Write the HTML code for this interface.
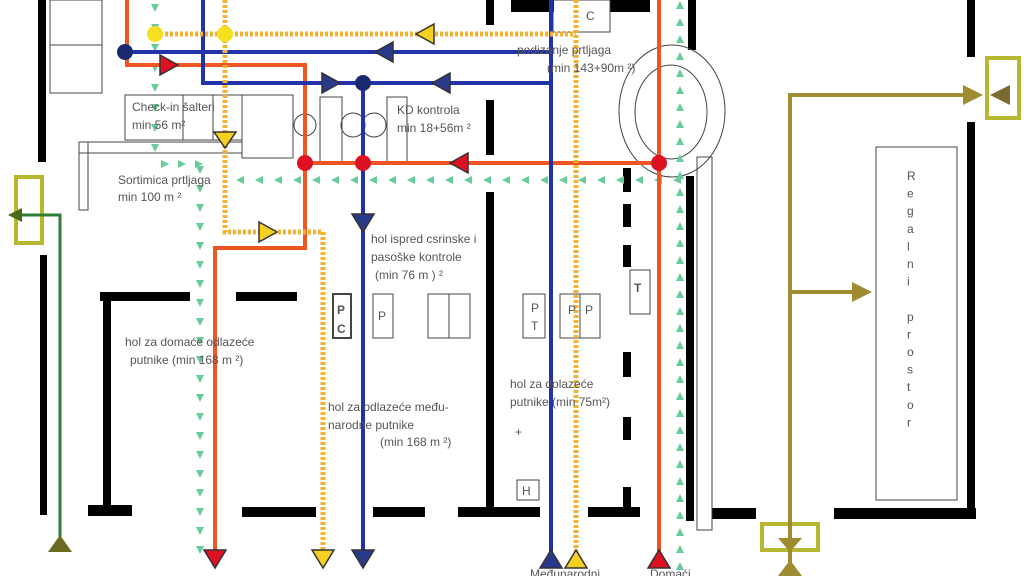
<!DOCTYPE html>
<html><head><meta charset="utf-8"><style>
html,body{margin:0;padding:0;background:#fff;}
svg{display:block;}
text{font-family:"Liberation Sans",sans-serif;fill:#555;font-size:12px;}
</style></head><body>
<svg id="s" width="1024" height="576" viewBox="0 0 1024 576" xmlns="http://www.w3.org/2000/svg">
<rect width="1024" height="576" fill="#fff"/>
<g fill="#000">
<rect x="38" y="0" width="8" height="162"/>
<rect x="40" y="255" width="7" height="260"/>
<rect x="103" y="293" width="8" height="217"/>
<rect x="100" y="292" width="90" height="9"/>
<rect x="236" y="292" width="61" height="9"/>
<rect x="88" y="505" width="44" height="11"/>
<rect x="242" y="507" width="74" height="10"/>
<rect x="373" y="507" width="52" height="10"/>
<rect x="458" y="507" width="82" height="10"/>
<rect x="486" y="0" width="8" height="25"/>
<rect x="486" y="100" width="8" height="55"/>
<rect x="486" y="192" width="8" height="320"/>
<rect x="511" y="0" width="43" height="12"/>
<rect x="610" y="0" width="40" height="12"/>
<rect x="623" y="168" width="8" height="24"/>
<rect x="623" y="204" width="8" height="23"/>
<rect x="623" y="245" width="8" height="22"/>
<rect x="623" y="352" width="8" height="25"/>
<rect x="623" y="417" width="8" height="23"/>
<rect x="623" y="487" width="8" height="25"/>
<rect x="588" y="507" width="52" height="10"/>
<rect x="688" y="0" width="8" height="50"/>
<rect x="686" y="176" width="8" height="345"/>
<rect x="712" y="508" width="44" height="11"/>
<rect x="834" y="508" width="142" height="11"/>
<rect x="967" y="0" width="8" height="57"/>
<rect x="967" y="122" width="8" height="396"/>
</g>
<g fill="none" stroke="#444" stroke-width="1">
<rect x="50" y="0" width="52" height="93"/><line x1="50" y1="45" x2="102" y2="45"/>
<rect x="125" y="95" width="58" height="45"/><rect x="183" y="95" width="30" height="45"/><rect x="213" y="95" width="29" height="45"/>
<rect x="242" y="95" width="51" height="63"/>
<rect x="79" y="142" width="9" height="68"/><rect x="79" y="142" width="163" height="11"/>
<circle cx="305" cy="125" r="11"/>
<rect x="320" y="97" width="22" height="66"/><circle cx="353" cy="125" r="12"/><circle cx="374" cy="125" r="12"/>
<rect x="387" y="97" width="20" height="66"/>
<rect x="553" y="0" width="57" height="32"/>
<ellipse cx="672" cy="111" rx="53" ry="66"/><ellipse cx="671" cy="112" rx="36" ry="47"/>
<rect x="697" y="157" width="15" height="373"/>
<rect x="876" y="147" width="81" height="353"/>
<rect x="333" y="294" width="18" height="44" stroke-width="2"/><rect x="373" y="294" width="20" height="44"/>
<rect x="428" y="294" width="42" height="44"/><line x1="449" y1="294" x2="449" y2="338"/>
<rect x="523" y="294" width="22" height="44"/><rect x="560" y="294" width="40" height="44"/><line x1="580" y1="294" x2="580" y2="338"/>
<rect x="630" y="270" width="20" height="44"/>
<rect x="517" y="480" width="22" height="20"/>
</g>
<g fill="none" stroke="#b8b830" stroke-width="4">
<rect x="16" y="177" width="26" height="66"/>
<rect x="987" y="58" width="32" height="60"/>
<rect x="762" y="524" width="56" height="26"/>
</g>
<g id="grn"></g>
<polyline points="12,215 60,215 60,540" fill="none" stroke="#2e7d32" stroke-width="3"/>
<polygon points="8,215 22,208 22,222" fill="#4a6a1a"/>
<polygon points="60,535 48,552 72,552" fill="#6b6b1f"/>
<g stroke="#a08c30" stroke-width="4" fill="none">
<polyline points="790,565 790,95 970,95"/><line x1="790" y1="292" x2="860" y2="292"/>
</g>
<polygon points="983,95 963,85 963,105" fill="#a08c30"/>
<polygon points="990,95 1010,85 1010,105" fill="#7a6a30"/>
<polygon points="872,292 852,282 852,302" fill="#a08c30"/>
<polygon points="790,552 778,538 802,538" fill="#a08c30"/>
<polygon points="790,560 778,576 802,576" fill="#a08c30"/>
<g stroke="#ee5522" stroke-width="4" fill="none">
<polyline points="127,0 127,65 305,65 305,248 215,248 215,552"/>
<line x1="305" y1="163" x2="659" y2="163"/><line x1="659" y1="0" x2="659" y2="555"/>
</g>
<g stroke="#2233aa" stroke-width="4" fill="none">
<line x1="125" y1="52" x2="551" y2="52"/><polyline points="203,0 203,83 551,83"/>
<line x1="363" y1="83" x2="363" y2="552"/><line x1="551" y1="0" x2="551" y2="560"/>
</g>
<g stroke="#f5b230" stroke-width="5" fill="none" stroke-dasharray="3,2">
<line x1="155" y1="34" x2="576" y2="34"/><polyline points="225,0 225,232 323,232 323,552"/>
<line x1="576" y1="0" x2="576" y2="560"/>
</g>
<circle cx="155" cy="34" r="8" fill="#f5e020"/><circle cx="225" cy="34" r="8" fill="#f5e020"/>
<circle cx="125" cy="52" r="8" fill="#1a2a6e"/><circle cx="363" cy="83" r="8" fill="#1a2a6e"/>
<circle cx="305" cy="163" r="8" fill="#dd1122"/><circle cx="363" cy="163" r="8" fill="#dd1122"/><circle cx="659" cy="163" r="8" fill="#dd1122"/>
<g stroke-width="1.5" stroke="#333">
<polygon points="178,65 160,55 160,75" fill="#dd1122"/>
<polygon points="450,163 468,153 468,173" fill="#dd1122"/>
<polygon points="215,568 204,550 226,550" fill="#dd1122"/>
<polygon points="659,550 648,568 670,568" fill="#dd1122"/>
<polygon points="375,52 393,42 393,62" fill="#2a3a8a"/>
<polygon points="340,83 322,73 322,93" fill="#2a3a8a"/>
<polygon points="432,83 450,73 450,93" fill="#2a3a8a"/>
<polygon points="363,232 352,214 374,214" fill="#2a3a8a"/>
<polygon points="363,568 352,550 374,550" fill="#2a3a8a"/>
<polygon points="551,550 540,568 562,568" fill="#2a3a8a"/>
<polygon points="416,34 434,24 434,44" fill="#f5d020"/>
<polygon points="225,148 214,132 236,132" fill="#f5d020"/>
<polygon points="277,232 259,222 259,242" fill="#f5d020"/>
<polygon points="323,568 312,550 334,550" fill="#f5d020"/>
<polygon points="576,550 565,568 587,568" fill="#f5d020"/>
</g>
<text x="132" y="111" font-size="11">Check-in šalteri</text>
<text x="132" y="129" font-size="11">min    56  m²</text>
<text x="397" y="114" font-size="11">KD kontrola</text>
<text x="397" y="132" font-size="11">min 18+56m ²</text>
<text x="118" y="184" font-size="11">Sortimica prtljaga</text>
<text x="118" y="201" font-size="11">min 100 m ²</text>
<text x="517" y="54" font-size="12">podizanje prtljaga</text>
<text x="547" y="72" font-size="12">(min 143+90m ²)</text>
<text x="371" y="243" font-size="12">hol ispred csrinske i</text>
<text x="371" y="261" font-size="12">pasoške kontrole</text>
<text x="375" y="279" font-size="12">(min   76 m  ) ²</text>
<text x="125" y="346" font-size="12">hol za domaće odlazeće</text>
<text x="130" y="364" font-size="12">putnike (min 168 m ²)</text>
<text x="328" y="411" font-size="12">hol za odlazeće među-</text>
<text x="328" y="429" font-size="12">narodne putnike</text>
<text x="380" y="446" font-size="12">(min 168 m ²)</text>
<text x="510" y="388" font-size="12">hol za dolazeće</text>
<text x="510" y="406" font-size="12">putnike (min 75m²)</text>
<text x="515" y="436" font-size="10">+</text>
<text x="586" y="20" font-size="12">C</text>
<text x="337" y="314" font-size="13" font-weight="bold" fill="#000">P</text>
<text x="337" y="333" font-size="13" font-weight="bold" fill="#000">C</text>
<text x="378" y="320" font-size="10">P</text>
<text x="531" y="312" font-size="10">P</text><text x="531" y="330" font-size="10">T</text>
<text x="568" y="314" font-size="10">P</text><text x="585" y="314" font-size="10">P</text>
<text x="634" y="292" font-size="13" font-weight="bold" fill="#000">T</text>
<text x="522" y="495" font-size="10">H</text>
<text x="530" y="578" font-size="9" fill="#222">Međunarodni</text>
<text x="650" y="578" font-size="9" fill="#222">Domaći</text>
<g id="reg" font-size="10"></g>
</svg>
<script>
var ns="http://www.w3.org/2000/svg",g=document.getElementById("grn");
function tri(x,y,d){var p=document.createElementNS(ns,"polygon"),s=4,pts;
if(d=="d")pts=[x-s,y-s,x+s,y-s,x,y+s];else if(d=="u")pts=[x-s,y+s,x+s,y+s,x,y-s];
else if(d=="l")pts=[x+s,y-s,x+s,y+s,x-s,y];else pts=[x-s,y-s,x-s,y+s,x+s,y];
p.setAttribute("points",pts.join(","));p.setAttribute("fill","#66cc99");g.appendChild(p);}
for(var y=8;y<160;y+=20)tri(155,y,"d");
for(var x=165;x<200;x+=17)tri(x,164,"r");
for(var y=170;y<560;y+=19)tri(200,y,"d");
for(var x=240;x<680;x+=19)tri(x,180,"l");
for(var y=5;y<570;y+=17)tri(680,y,"u");
var r=document.getElementById("reg"),t="Regalni prostor";
for(var i=0;i<t.length;i++){var e=document.createElementNS(ns,"text");e.setAttribute("x",907);e.setAttribute("y",180+i*17.6);e.setAttribute("font-size","10");e.textContent=t[i];r.appendChild(e);}
</script>
</body></html>
